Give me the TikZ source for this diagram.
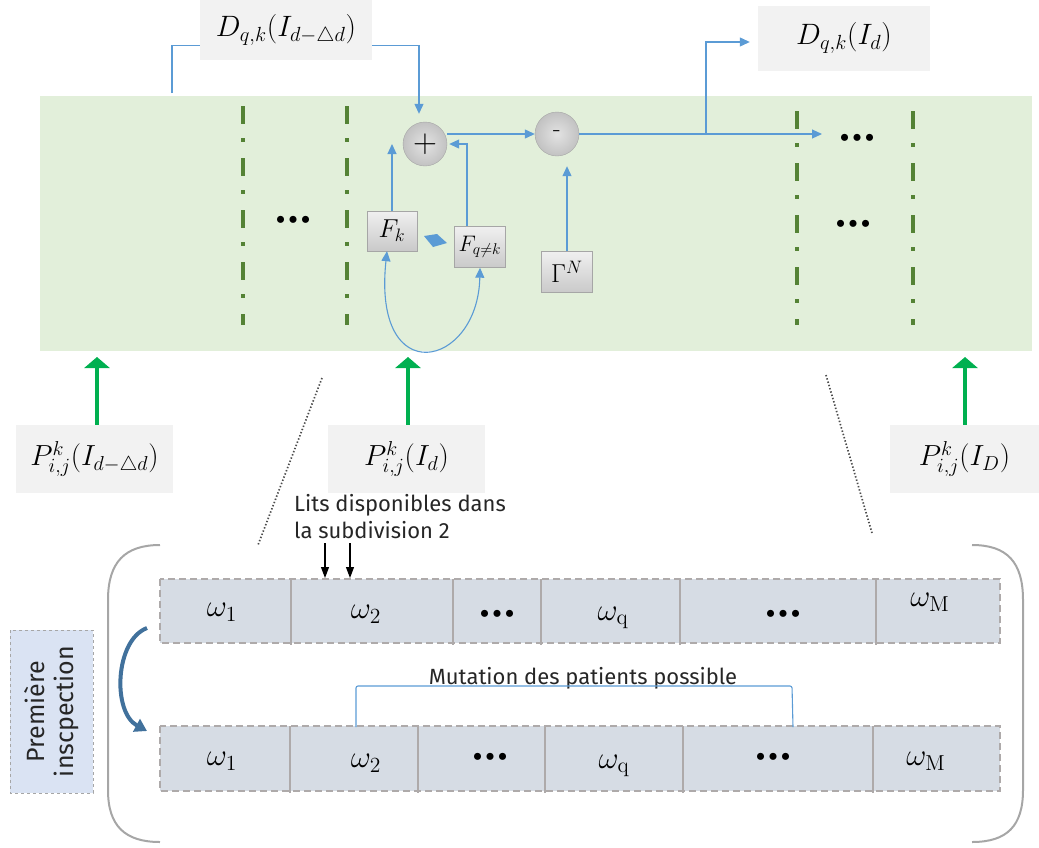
\documentclass[tikz,border=0pt]{standalone}
\usepackage{graphicx}
\usepackage{fontspec}
\setsansfont{Fira Sans}
\usetikzlibrary{arrows.meta,calc}
\definecolor{panel}{HTML}{E2EFDA}
\definecolor{lblbox}{HTML}{F2F2F2}
\definecolor{bl}{HTML}{5B9BD5}
\definecolor{dgreen}{HTML}{548235}
\definecolor{bgreen}{HTML}{00B050}
\definecolor{cell}{HTML}{D6DCE4}
\definecolor{cellb}{HTML}{AEAAAA}
\definecolor{insp}{HTML}{DAE3F3}
\definecolor{darkblue}{HTML}{41719C}
\definecolor{parc}{HTML}{A6A6A6}
\newcommand{\tridots}{\textbullet\kern-8.5pt\textbullet\kern-8.5pt\textbullet}
\newcommand{\smath}[2]{\scalebox{#1}{$#2$}}
\begin{document}
\begin{tikzpicture}[x=1pt,y=-1pt,
  lbl/.style={fill=lblbox, inner sep=0pt, font=\fontsize{20.74}{24}\selectfont},
  opcirc/.style={circle, draw=gray!70, inner color=gray!22, outer color=gray!48, minimum size=44pt, inner sep=0pt, font=\fontsize{20.74}{24}\selectfont},
  fbox/.style={draw=gray!70, top color=gray!12, bottom color=gray!42, minimum width=50pt, minimum height=40pt, inner sep=0pt, font=\fontsize{17.28}{20}\selectfont},
  bline/.style={bl, line width=1.1pt},
  barrow/.style={bl, line width=1.1pt, -{Triangle[length=10pt,width=9pt]}},
  garrow/.style={bgreen, line width=4pt, -{Triangle[length=11pt,width=25pt]}},
  dashdot/.style={dgreen, line width=4.5pt, dash pattern=on 18pt off 14pt on 4pt off 16pt},
  dots/.style={font=\fontsize{24}{26}\selectfont\bfseries, inner sep=0pt},
  omg/.style={font=\fontsize{20.74}{24}\selectfont, inner sep=0pt},
  sans/.style={font=\sffamily\fontsize{22}{27}\selectfont, text=black!85}
]
\useasboundingbox (0,0) rectangle (1039,847);

% green panel
\fill[panel] (40,96) rectangle (1032,351);
\draw[dashdot] (243,106) -- (243,325);
\draw[dashdot] (347,106) -- (347,325);
\draw[dashdot] (797,111) -- (797,325);
\draw[dashdot] (913,111) -- (913,325);
\node[dots] (dl) at (293,221) {\tridots};
\node[dots] (dr1) at (857,139) {\tridots};
\node[dots] (dr2) at (853,225) {\tridots};

% label boxes
\node[lbl, minimum width=172pt, minimum height=60pt] (dprev) at (286,30) {\smath{1.42}{D_{q,k}(I_{d-\triangle d})}};
\node[lbl, minimum width=172pt, minimum height=65pt] (dnow) at (844,38) {\smath{1.42}{D_{q,k}(I_{d})}};
\node[lbl, minimum width=157pt, minimum height=68pt] (p1) at (94.5,459) {\smath{1.4}{P^{k}_{i,j}(I_{d-\triangle d})}};
\node[lbl, minimum width=157pt, minimum height=68pt] (p2) at (406.5,459) {\smath{1.4}{P^{k}_{i,j}(I_{d})}};
\node[lbl, minimum width=149pt, minimum height=68pt] (p3) at (964.5,459) {\smath{1.4}{P^{k}_{i,j}(I_{D})}};

% operators
\node[opcirc] (plus) at (425,144) {\smath{1.6}{+}};
\node[opcirc] (minus) at (557,134) {\scalebox{1.2}{-}};
\node[fbox] (fk) at (392,231) {\smath{1.5}{F_k}};
\node[fbox, minimum width=51pt, minimum height=41pt] (fq) at (480,247) {\smath{1.3}{F_{q\neq k}}};
\node[fbox, minimum width=51pt, minimum height=41pt] (gam) at (567,272) {\smath{1.5}{\Gamma^{N}}};

% blue connectors
\coordinate (s1) at (172,93);
\draw[bline] (s1) |- ($(dprev.south west)+(0,-15)$);
\draw[barrow] ($(dprev.south east)+(0,-15)$) -| ($(plus.north)+(-6,-8)$);
\draw[barrow] (plus.east |- minus.west) -- (minus.west);
\coordinate (outend) at (822,134);
\coordinate (br) at (706,134);
\draw[barrow] (minus.east) -- (outend);
\draw[barrow, shorten >=8pt] (br) |- ($(dnow.west)+(0,4)$);
\draw[barrow] (fk.north) -- (fk.north |- plus.center);
\draw[barrow, shorten >=2pt] ($(fq.north)+(-13,0)$) |- (plus.east);
\draw[barrow, shorten >=10pt] (gam.north) -- (gam.north |- minus.south);
\fill[bl] (424,236) -- (437,234) -- (447,243) -- (433,247) -- cycle;
\draw[bl, line width=1.1pt, {Triangle[length=10pt,width=9pt]}-{Triangle[length=10pt,width=9pt]}]
  ($(fk.south)+(-5,0)$) .. controls (372,392) and (478,368) .. (fq.south);

% green arrows
\draw[garrow] (p1.north -| 97,0) -- (97,357);
\draw[garrow] (p2.north -| 408,0) -- (408,357);
\draw[garrow] (p3.north -| 965,0) -- (965,357);

% dotted zoom lines
\draw[gray!60!black, line width=1.7pt, dash pattern=on 1.4pt off 2pt] (322,378) -- (258,545);
\draw[gray!60!black, line width=1.7pt, dash pattern=on 1.4pt off 2pt] (826,375) -- (872,533);

% annotation
\node[sans, anchor=west, align=left, inner sep=0pt] (lits) at (294,517) {Lits disponibles dans\\la subdivision 2};
\coordinate (a1) at (325,578);
\coordinate (a2) at (350,578);
\draw[black, line width=1.1pt, -{Triangle[length=11pt,width=8pt]}] (325,543) -- (a1);
\draw[black, line width=1.1pt, -{Triangle[length=11pt,width=8pt]}] (350,543) -- (a2);

% parentheses
\draw[parc, line width=2pt] (160,545) .. controls (125,545) and (108,562) .. (108,600) -- (108,790) .. controls (108,826) and (125,842) .. (160,842);
\draw[parc, line width=2pt] (972,545) .. controls (1007,545) and (1023,562) .. (1023,600) -- (1023,790) .. controls (1023,826) and (1007,842) .. (972,842);

% top row
\fill[cell] (160,579) rectangle (1000,643);
\draw[cellb, line width=2pt, dash pattern=on 7pt off 4pt] (160,579) rectangle (1000,643);
\foreach \x in {291,453,541,680,876} \draw[cellb, line width=2.2pt] (\x,579) -- (\x,645);
\node[omg] (t1) at (222,612) {\smath{1.5}{\omega_{\mathrm{1}}}};
\node[omg] (t2) at (366,614) {\smath{1.5}{\omega_{\mathrm{2}}}};
\node[dots] (t3) at (497,615) {\tridots};
\node[omg] (t4) at (613,618) {\smath{1.5}{\omega_{\mathrm{q}}}};
\node[dots] (t5) at (783,615) {\tridots};
\node[omg] (t6) at (930,602) {\smath{1.5}{\omega_{\mathrm{M}}}};

% bottom row
\fill[cell] (160,726) rectangle (1000,791);
\draw[cellb, line width=2pt, dash pattern=on 7pt off 4pt] (160,726) rectangle (1000,791);
\foreach \x in {290,418,545,683,873} \draw[cellb, line width=2.2pt] (\x,726) -- (\x,793);
\node[omg] (b1) at (222,761) {\smath{1.5}{\omega_{\mathrm{1}}}};
\node[omg] (b2) at (366,763) {\smath{1.5}{\omega_{\mathrm{2}}}};
\node[dots] (b3) at (490,758) {\tridots};
\node[omg] (b4) at (614,766) {\smath{1.5}{\omega_{\mathrm{q}}}};
\node[dots] (b5) at (773,758) {\tridots};
\node[omg] (b6) at (926,761) {\smath{1.5}{\omega_{\mathrm{M}}}};

% mutation bracket
\node[sans, inner sep=0pt] (mut) at (583,678) {Mutation des patients possible};
\coordinate (m1) at (356,727);
\coordinate (m2) at (793,727);
\draw[bl, line width=1.1pt, rounded corners=2pt] (m1) |- (792,686) -- (m2);

% inspection box
\node[draw=gray!70, dashed, fill=insp, rotate=90, minimum width=163pt, minimum height=83pt, align=center, font=\sffamily\fontsize{25}{29}\selectfont, text=black!85] (insp) at (51.5,711.5) {Première\\inscpection};
\coordinate (cv1) at (147,628);
\coordinate (cv2) at (147,731);
\draw[darkblue, line width=4pt, -{Triangle[length=12pt,width=14pt]}] (cv1) .. controls (115,640) and (112,712) .. (cv2);
\end{tikzpicture}
\end{document}
